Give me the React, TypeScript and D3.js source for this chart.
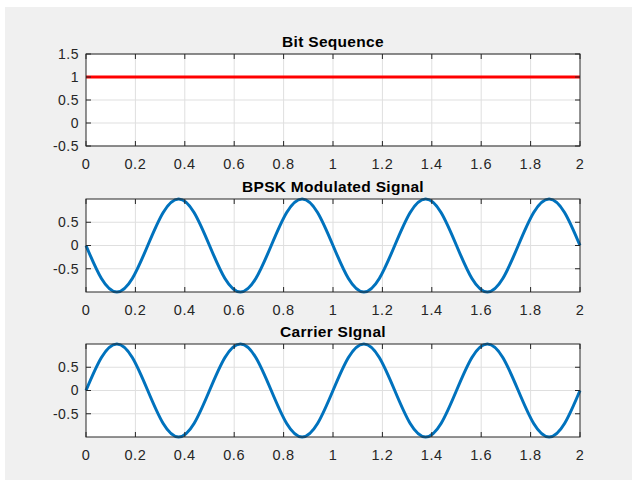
import React, { useEffect, useRef } from 'react';
import * as d3 from 'd3';

// time samples, every 1/16 s (eighth of a carrier period)
const timeSamples = [
  0, 0.0625, 0.125, 0.1875, 0.25, 0.3125, 0.375, 0.4375, 0.5, 0.5625, 0.625, 0.6875, 0.75, 0.8125, 0.875, 0.9375,
  1, 1.0625, 1.125, 1.1875, 1.25, 1.3125, 1.375, 1.4375, 1.5, 1.5625, 1.625, 1.6875, 1.75, 1.8125, 1.875, 1.9375, 2,
];
const carrierValues = [
  0, 0.71, 1, 0.71, 0, -0.71, -1, -0.71, 0, 0.71, 1, 0.71, 0, -0.71, -1, -0.71,
  0, 0.71, 1, 0.71, 0, -0.71, -1, -0.71, 0, 0.71, 1, 0.71, 0, -0.71, -1, -0.71, 0,
];
const bpskValues = [
  0, -0.71, -1, -0.71, 0, 0.71, 1, 0.71, 0, -0.71, -1, -0.71, 0, 0.71, 1, 0.71,
  0, -0.71, -1, -0.71, 0, 0.71, 1, 0.71, 0, -0.71, -1, -0.71, 0, 0.71, 1, 0.71, 0,
];
const bitTimes = [0, 2];
const bitValues = [1, 1];

const xTicks = [0, 0.2, 0.4, 0.6, 0.8, 1, 1.2, 1.4, 1.6, 1.8, 2];
const bitYTicks = [-0.5, 0, 0.5, 1, 1.5];
const sigYTicks = [-0.5, 0, 0.5];

const App = () => {
  const svgRef = useRef<SVGSVGElement>(null);

  useEffect(() => {
    const width = 632;
    const height = 480;
    const svg = d3.select(svgRef.current);
    svg.selectAll('*').remove();

    svg.append('rect').attr('width', width).attr('height', height).attr('fill', '#ffffff');
    svg.append('rect').attr('x', 5).attr('y', 7).attr('width', width - 5).attr('height', height - 7).attr('fill', '#f0f0f0');

    const font = 'Arial, "Liberation Sans", Helvetica, sans-serif';
    const axisColor = '#262626';
    const left = 86;
    const right = 580;

    const panels = [
      { title: 'Bit Sequence', top: 54, bottom: 146, yDomain: [-0.5, 1.5], yTicks: bitYTicks, xs: bitTimes, ys: bitValues, color: '#ff0000', width: 3, curve: d3.curveLinear },
      { title: 'BPSK Modulated Signal', top: 199, bottom: 292, yDomain: [-1, 1], yTicks: sigYTicks, xs: timeSamples, ys: bpskValues, color: '#0072bd', width: 3, curve: d3.curveNatural },
      { title: 'Carrier SIgnal', top: 344, bottom: 437, yDomain: [-1, 1], yTicks: sigYTicks, xs: timeSamples, ys: carrierValues, color: '#0072bd', width: 3, curve: d3.curveNatural },
    ];

    panels.forEach((p) => {
      const x = d3.scaleLinear().domain([0, 2]).range([left, right]);
      const y = d3.scaleLinear().domain(p.yDomain).range([p.bottom, p.top]);
      const g = svg.append('g');

      g.append('rect')
        .attr('x', left).attr('y', p.top)
        .attr('width', right - left).attr('height', p.bottom - p.top)
        .attr('fill', '#ffffff');

      // grid
      g.selectAll('.vgrid').data(xTicks.slice(1, -1)).enter().append('line')
        .attr('x1', (d) => x(d)).attr('x2', (d) => x(d))
        .attr('y1', p.top).attr('y2', p.bottom)
        .attr('stroke', '#dfdfdf').attr('stroke-width', 1);
      g.selectAll('.hgrid').data(p.yTicks).enter().append('line')
        .attr('x1', left).attr('x2', right)
        .attr('y1', (d) => y(d)).attr('y2', (d) => y(d))
        .attr('stroke', '#dfdfdf').attr('stroke-width', 1);

      // series
      const pts = p.xs.map((t, i) => [t, p.ys[i]] as [number, number]);
      const line = d3.line<[number, number]>()
        .x((d) => x(d[0]))
        .y((d) => y(d[1]))
        .curve(p.curve);
      g.append('path')
        .datum(pts)
        .attr('fill', 'none')
        .attr('stroke', p.color)
        .attr('stroke-width', p.width)
        .attr('d', line);

      // box
      g.append('rect')
        .attr('x', left).attr('y', p.top)
        .attr('width', right - left).attr('height', p.bottom - p.top)
        .attr('fill', 'none').attr('stroke', axisColor).attr('stroke-width', 1);

      // inward ticks, mirrored
      const tl = 5;
      g.selectAll('.xt').data(xTicks).enter().append('path')
        .attr('d', (d) => `M${x(d)},${p.bottom}v${-tl}M${x(d)},${p.top}v${tl}`)
        .attr('stroke', axisColor).attr('stroke-width', 1);
      g.selectAll('.yt').data(p.yTicks).enter().append('path')
        .attr('d', (d) => `M${left},${y(d)}h${tl}M${right},${y(d)}h${-tl}`)
        .attr('stroke', axisColor).attr('stroke-width', 1);

      // tick labels
      g.selectAll('.xl').data(xTicks).enter().append('text')
        .attr('x', (d) => x(d))
        .attr('y', p.bottom + 23)
        .attr('text-anchor', 'middle')
        .attr('font-family', font).attr('font-size', 14.5)
        .attr('letter-spacing', 0.6)
        .attr('fill', axisColor)
        .text((d) => String(d));
      g.selectAll('.yl').data(p.yTicks).enter().append('text')
        .attr('x', left - 7)
        .attr('y', (d) => y(d))
        .attr('dy', '0.35em')
        .attr('text-anchor', 'end')
        .attr('font-family', font).attr('font-size', 14)
        .attr('letter-spacing', 0.5)
        .attr('fill', axisColor)
        .text((d) => String(d));

      g.append('text')
        .attr('x', (left + right) / 2)
        .attr('y', p.top - 7)
        .attr('text-anchor', 'middle')
        .attr('font-family', font).attr('font-size', 15.5).attr('font-weight', 'bold')
        .attr('letter-spacing', 0.3)
        .attr('fill', '#000000')
        .text(p.title);
    });
  }, []);

  return (
    <div style={{ position: 'absolute', left: 0, top: 0 }}>
      <svg ref={svgRef} width={632} height={480} style={{ display: 'block' }} />
    </div>
  );
};

export default App;
